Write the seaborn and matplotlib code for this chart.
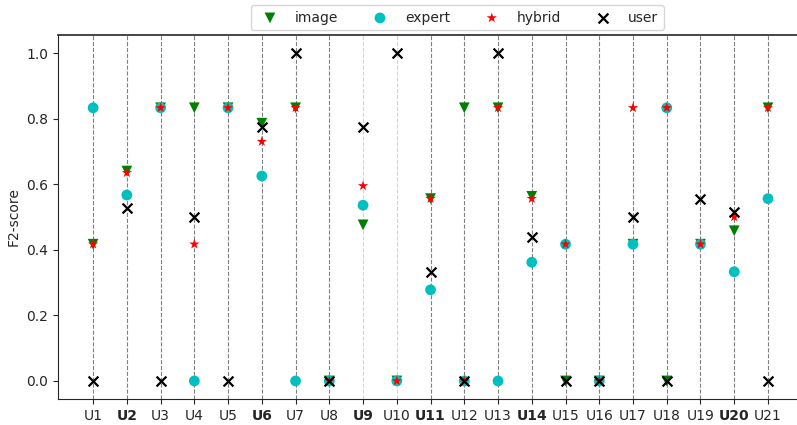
import numpy as np
import pandas as pd
import seaborn as sns
from matplotlib import pyplot as plt

users = [f"U{i}" for i in range(1, 22)]
bold_users = ["U2", "U6", "U9", "U11", "U14", "U20"]
light_lines = ["U9", "U10"]

image = [0.417, 0.64, 0.833, 0.833, 0.833, 0.786, 0.833, 0.0, 0.476, 0.0, 0.556,
         0.833, 0.833, 0.563, 0.0, 0.0, 0.417, 0.0, 0.417, 0.458, 0.833]
expert = [0.833, 0.567, 0.833, 0.0, 0.833, 0.625, 0.0, 0.0, 0.536, 0.0, 0.278,
          0.0, 0.0, 0.362, 0.417, 0.0, 0.417, 0.833, 0.417, 0.333, 0.556]
hybrid = [0.417, 0.635, 0.833, 0.417, 0.833, 0.73, 0.833, 0.0, 0.595, 0.0, 0.556,
          0.0, 0.833, 0.556, 0.417, 0.0, 0.833, 0.833, 0.417, 0.5, 0.833]
user = [0.0, 0.526, 0.0, 0.5, 0.0, 0.773, 1.0, 0.0, 0.773, 1.0, 0.333,
        0.0, 1.0, 0.438, 0.0, 0.0, 0.5, 0.0, 0.556, 0.515, 0.0]

series = {"image": image, "expert": expert, "hybrid": hybrid, "user": user}
styles = {
    "image": dict(marker="v", color="green", s=60),
    "expert": dict(marker="o", color="c", s=60),
    "hybrid": dict(marker="*", color="red", s=60),
    "user": dict(marker="x", color="black", s=50, linewidth=1.6),
}

sns.set_style("ticks")
plt.rcParams["font.family"] = ["DejaVu Sans"]

fig = plt.figure(figsize=(7.97, 4.25), dpi=100)
ax = fig.add_axes([58 / 797, 26 / 425, 1 - 58 / 797, 364 / 425])

x = np.arange(len(users))
for u, xi in zip(users, x):
    if u in light_lines:
        ax.axvline(xi, color="lightgray", linestyle="--", linewidth=0.8, zorder=0)
    else:
        ax.axvline(xi, color="gray", linestyle="--", linewidth=0.8, zorder=0)

for name, vals in series.items():
    df = pd.DataFrame({"x": x, "score": vals})
    st = dict(styles[name])
    if st["marker"] == "x":
        sns.scatterplot(data=df, x="x", y="score", ax=ax, label=name, zorder=3, **st)
    else:
        sns.scatterplot(data=df, x="x", y="score", ax=ax, label=name, edgecolor="none", zorder=3, **st)

ax.set_xticks(x)
ax.set_xticklabels(users)
for lbl in ax.get_xticklabels():
    if lbl.get_text() in bold_users:
        lbl.set_fontweight("bold")
ax.set_xlim(-1.04, 20.86)
ax.set_ylim(-0.055, 1.055)
ax.set_xlabel("")
ax.set_ylabel("F2-score")
ax.tick_params(labelsize=10)
ax.spines["right"].set_visible(False)
ax.spines["top"].set_linewidth(1.2)

ax.legend(loc="upper center", bbox_to_anchor=(457 / 797, 1 - 5 / 425), bbox_transform=fig.transFigure,
          ncol=4, frameon=True, columnspacing=2.0, handletextpad=0.8, borderaxespad=0, fontsize=10)

fig.savefig("out.png", dpi=100)
